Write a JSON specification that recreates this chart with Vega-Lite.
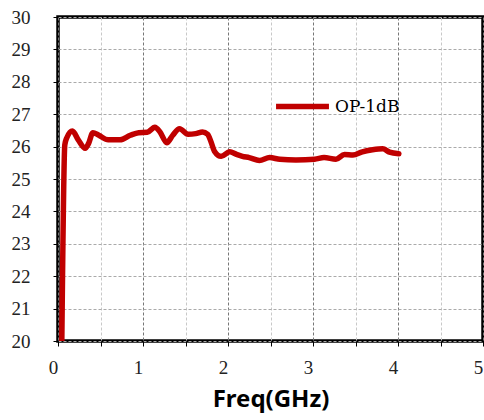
{
 "$schema": "https://vega.github.io/schema/vega-lite/v6.json",
 "width": 425,
 "height": 324,
 "autosize": {"type": "none"},
 "padding": {"left": 58, "top": 17, "right": 1, "bottom": 79},
 "background": "white",
 "config": {"view": {"stroke": "#000", "strokeWidth": 3.5}},
 "data": {"values": [
  {"freq": 0.045, "op": 20.0, "series": "OP-1dB"},
  {"freq": 0.08, "op": 26.05, "series": "OP-1dB"},
  {"freq": 0.10, "op": 26.25, "series": "OP-1dB"},
  {"freq": 0.17, "op": 26.48, "series": "OP-1dB"},
  {"freq": 0.24, "op": 26.2, "series": "OP-1dB"},
  {"freq": 0.32, "op": 25.95, "series": "OP-1dB"},
  {"freq": 0.36, "op": 26.1, "series": "OP-1dB"},
  {"freq": 0.41, "op": 26.43, "series": "OP-1dB"},
  {"freq": 0.48, "op": 26.35, "series": "OP-1dB"},
  {"freq": 0.59, "op": 26.21, "series": "OP-1dB"},
  {"freq": 0.73, "op": 26.21, "series": "OP-1dB"},
  {"freq": 0.85, "op": 26.35, "series": "OP-1dB"},
  {"freq": 0.95, "op": 26.43, "series": "OP-1dB"},
  {"freq": 1.05, "op": 26.44, "series": "OP-1dB"},
  {"freq": 1.14, "op": 26.6, "series": "OP-1dB"},
  {"freq": 1.20, "op": 26.45, "series": "OP-1dB"},
  {"freq": 1.28, "op": 26.12, "series": "OP-1dB"},
  {"freq": 1.35, "op": 26.35, "series": "OP-1dB"},
  {"freq": 1.43, "op": 26.55, "series": "OP-1dB"},
  {"freq": 1.53, "op": 26.38, "series": "OP-1dB"},
  {"freq": 1.62, "op": 26.4, "series": "OP-1dB"},
  {"freq": 1.70, "op": 26.45, "series": "OP-1dB"},
  {"freq": 1.76, "op": 26.38, "series": "OP-1dB"},
  {"freq": 1.80, "op": 26.15, "series": "OP-1dB"},
  {"freq": 1.84, "op": 25.86, "series": "OP-1dB"},
  {"freq": 1.92, "op": 25.7, "series": "OP-1dB"},
  {"freq": 2.02, "op": 25.84, "series": "OP-1dB"},
  {"freq": 2.10, "op": 25.76, "series": "OP-1dB"},
  {"freq": 2.17, "op": 25.7, "series": "OP-1dB"},
  {"freq": 2.25, "op": 25.66, "series": "OP-1dB"},
  {"freq": 2.37, "op": 25.57, "series": "OP-1dB"},
  {"freq": 2.49, "op": 25.66, "series": "OP-1dB"},
  {"freq": 2.61, "op": 25.61, "series": "OP-1dB"},
  {"freq": 2.80, "op": 25.59, "series": "OP-1dB"},
  {"freq": 3.02, "op": 25.61, "series": "OP-1dB"},
  {"freq": 3.13, "op": 25.66, "series": "OP-1dB"},
  {"freq": 3.27, "op": 25.61, "series": "OP-1dB"},
  {"freq": 3.37, "op": 25.76, "series": "OP-1dB"},
  {"freq": 3.47, "op": 25.74, "series": "OP-1dB"},
  {"freq": 3.58, "op": 25.84, "series": "OP-1dB"},
  {"freq": 3.70, "op": 25.9, "series": "OP-1dB"},
  {"freq": 3.82, "op": 25.93, "series": "OP-1dB"},
  {"freq": 3.90, "op": 25.83, "series": "OP-1dB"},
  {"freq": 4.01, "op": 25.78, "series": "OP-1dB"}
 ]},
 "mark": {"type": "line", "interpolate": "monotone", "strokeWidth": 5.5, "strokeCap": "round", "strokeJoin": "round", "clip": true},
 "encoding": {
  "x": {
   "field": "freq", "type": "quantitative",
   "scale": {"domain": [0, 5], "nice": false, "zero": false},
   "axis": {
    "values": [0, 0.5, 1, 1.5, 2, 2.5, 3, 3.5, 4, 4.5, 5],
    "labelExpr": "datum.value % 1 === 0 ? format(datum.value, 'd') : ''",
    "domain": false,
    "ticks": true, "tickColor": "#000", "tickSize": 5, "tickWidth": 1,
    "grid": true, "gridDash": [3, 2],
    "gridColor": {"condition": {"test": "datum.value % 1 === 0", "value": "#777"}, "value": "#c8c8c8"},
    "labelFont": "Liberation Serif", "labelFontSize": 19, "labelColor": "#222",
    "labelPadding": 12, "labelOffset": -5, "labelFlush": false, "labelOverlap": false,
    "title": "Freq(GHz)", "titleFont": "Noto Sans", "titleFontWeight": "bold", "titleFontSize": 24,
    "titleColor": "#000", "titlePadding": 10
   }
  },
  "y": {
   "field": "op", "type": "quantitative",
   "scale": {"domain": [20, 30], "nice": false, "zero": false},
   "axis": {
    "values": [20, 21, 22, 23, 24, 25, 26, 27, 28, 29, 30],
    "domain": false,
    "ticks": true, "tickColor": "#000", "tickSize": 5, "tickWidth": 1,
    "grid": true, "gridDash": [3, 2], "gridColor": "#aaa",
    "labelFont": "Liberation Serif", "labelFontSize": 19, "labelColor": "#222",
    "labelPadding": 23, "labelFlush": false,
    "title": null
   }
  },
  "color": {
   "field": "series", "type": "nominal",
   "scale": {"range": ["#C00000"]},
   "legend": {
    "orient": "none", "legendX": 215, "legendY": 60, "title": null,
    "symbolType": "stroke", "symbolSize": 2800, "symbolStrokeWidth": 5.5,
    "labelFont": "DejaVu Serif", "labelFontSize": 17, "labelColor": "#000", "labelOffset": 3
   }
  }
 }
}
